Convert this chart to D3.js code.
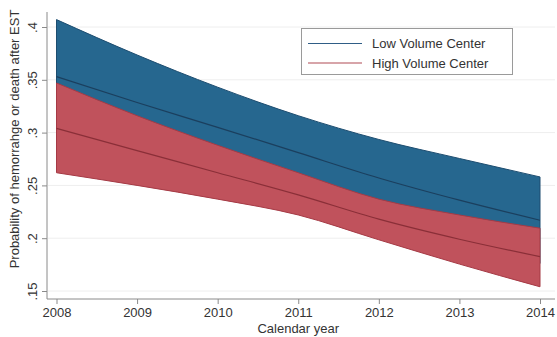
<!DOCTYPE html>
<html>
<head>
<meta charset="utf-8">
<script src="https://cdn.jsdelivr.net/npm/d3@7"></script>
<style>
  html, body { margin: 0; padding: 0; background: #fff; }
  svg { display: block; font-family: "Liberation Sans", Arial, sans-serif; }
</style>
</head>
<body>
<svg id="chart" width="557" height="337"></svg>
<script>
// Predicted probability by calendar year, with confidence bands
const years = [2008, 2009, 2010, 2011, 2012, 2013, 2014];

const lowMean  = [0.353, 0.3285, 0.305, 0.281, 0.257, 0.236, 0.217];
const lowUpper = [0.407, 0.3735, 0.343, 0.316, 0.2935, 0.2755, 0.258];
const lowLower = [0.299, 0.2845, 0.266, 0.247, 0.221, 0.197, 0.176];

const highMean  = [0.304, 0.283, 0.262, 0.241, 0.218, 0.199, 0.1825];
const highUpper = [0.347, 0.316, 0.288, 0.262, 0.237, 0.222, 0.2095];
const highLower = [0.262, 0.250, 0.237, 0.222, 0.1985, 0.1755, 0.154];

const yTicks = [0.15, 0.2, 0.25, 0.3, 0.35, 0.4];
const yTickLabels = [".15", ".2", ".25", ".3", ".35", ".4"];
const legendLabels = ["Low Volume Center", "High Volume Center"];

const svg = d3.select("#chart");

const x = d3.scaleLinear().domain([2008, 2014]).range([56.5, 540]);
const y = d3.scaleLinear().domain([0.15, 0.4]).range([291, 27]);

const axisColor = "#8a8a8a";
const textColor = "#333";

// faint horizontal gridlines
svg.append("g")
  .selectAll("line")
  .data(yTicks)
  .join("line")
  .attr("x1", 48).attr("x2", 555)
  .attr("y1", d => y(d)).attr("y2", d => y(d))
  .attr("stroke", "#eeeeee").attr("stroke-width", 1);

const series = [
  { mean: lowMean, upper: lowUpper, lower: lowLower,
    fill: "#26678f", edge: "#1d4d70", line: "#1b3f5e", legend: "#2f5d86" },
  { mean: highMean, upper: highUpper, lower: highLower,
    fill: "#c0525c", edge: "#a53a45", line: "#8a2f38", legend: "#b04a54" }
];

const area = d3.area()
  .x(d => x(d.year))
  .y0(d => y(d.lo))
  .y1(d => y(d.hi))
  .curve(d3.curveMonotoneX);

const line = d3.line()
  .x(d => x(d.year))
  .y(d => y(d.v))
  .curve(d3.curveMonotoneX);

// confidence bands (high-volume band drawn over the low-volume one)
series.forEach(s => {
  const pts = years.map((yr, i) => ({ year: yr, lo: s.lower[i], hi: s.upper[i] }));
  svg.append("path")
    .datum(pts)
    .attr("d", area)
    .attr("fill", s.fill)
    .attr("stroke", s.edge)
    .attr("stroke-width", 1);
});

// predicted mean lines
series.forEach(s => {
  const pts = years.map((yr, i) => ({ year: yr, v: s.mean[i] }));
  svg.append("path")
    .datum(pts)
    .attr("d", line)
    .attr("fill", "none")
    .attr("stroke", s.line)
    .attr("stroke-width", 1.2);
});

// x axis
const xAxis = svg.append("g")
  .attr("transform", "translate(0,299)")
  .call(d3.axisBottom(x).tickValues(years).tickFormat(d3.format("d")).tickSize(5).tickSizeOuter(0));
xAxis.select(".domain").attr("d", "M47,0H555").attr("stroke", axisColor);
xAxis.selectAll(".tick line").attr("stroke", axisColor);
xAxis.selectAll(".tick text")
  .attr("y", 9)
  .attr("fill", textColor)
  .style("font-size", "13px");

// y axis with vertical tick labels
const yAxis = svg.append("g")
  .attr("transform", "translate(47,0)")
  .call(d3.axisLeft(y).tickValues(yTicks).tickFormat((d, i) => yTickLabels[i]).tickSize(5).tickSizeOuter(0));
yAxis.select(".domain").attr("d", "M0,12V299").attr("stroke", axisColor);
yAxis.selectAll(".tick line").attr("stroke", axisColor);
yAxis.selectAll(".tick text")
  .attr("x", null).attr("dy", null)
  .attr("transform", "translate(-10,0) rotate(-90)")
  .attr("text-anchor", "middle")
  .attr("fill", textColor)
  .style("font-size", "13px");

// axis titles
svg.append("text")
  .attr("x", x(2011)).attr("y", 333)
  .attr("text-anchor", "middle")
  .attr("fill", textColor)
  .style("font-size", "13px")
  .text("Calendar year");

svg.append("text")
  .attr("transform", "translate(19,139) rotate(-90)")
  .attr("text-anchor", "middle")
  .attr("fill", textColor)
  .style("font-size", "13px")
  .text("Probability of hemorrahge or death after EST");

// legend
const legend = svg.append("g");
legend.append("rect")
  .attr("x", 301.5).attr("y", 28.5)
  .attr("width", 211).attr("height", 46)
  .attr("fill", "#fff").attr("stroke", "#9a9a9a").attr("stroke-width", 1);
legendLabels.forEach((lab, i) => {
  const ly = 43.5 + i * 19.5;
  legend.append("line")
    .attr("x1", 308).attr("x2", 362)
    .attr("y1", ly).attr("y2", ly)
    .attr("stroke", series[i].legend).attr("stroke-width", 1.2);
  legend.append("text")
    .attr("x", 372).attr("y", ly + 4.5)
    .attr("fill", textColor)
    .style("font-size", "13px")
    .text(lab);
});
</script>
</body>
</html>
